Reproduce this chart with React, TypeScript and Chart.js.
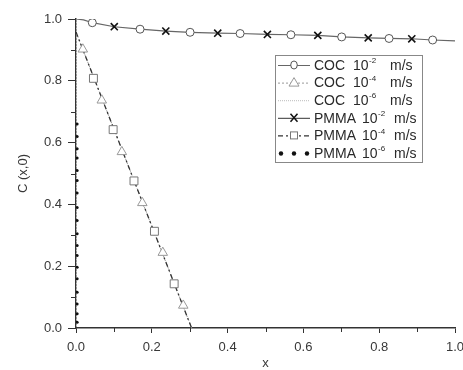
import React, { useEffect, useRef } from 'react';
import { Chart, registerables } from 'chart.js';

Chart.register(...registerables);

// ---- data ----
const xTickValues = [0, 0.2, 0.4, 0.6, 0.8, 1.0];
const yTickValues = [0, 0.2, 0.4, 0.6, 0.8, 1.0];

// 10^-2 m/s profile (COC and PMMA overlap)
const curve2X = [0, 0.02, 0.043, 0.101, 0.169, 0.237, 0.301, 0.374, 0.433, 0.505, 0.567, 0.638, 0.701, 0.771, 0.826, 0.886, 0.941, 1.0];
const curve2Y = [1.0, 0.997, 0.988, 0.975, 0.967, 0.961, 0.957, 0.954, 0.953, 0.95, 0.949, 0.947, 0.942, 0.939, 0.937, 0.936, 0.932, 0.929];
const cocCircleX = [0.043, 0.169, 0.301, 0.433, 0.567, 0.701, 0.826, 0.941];
const cocCircleY = [0.988, 0.967, 0.957, 0.953, 0.949, 0.942, 0.937, 0.932];
const pmmaCrossX = [0.101, 0.237, 0.374, 0.505, 0.638, 0.771, 0.886];
const pmmaCrossY = [0.975, 0.961, 0.954, 0.95, 0.947, 0.939, 0.936];

// 10^-4 m/s profile
const curve4X = [0, 0.305];
const curve4Y = [0.958, 0];
const cocTriX = [0.018, 0.068, 0.121, 0.175, 0.229, 0.283];
const cocTriY = [0.902, 0.737, 0.57, 0.405, 0.244, 0.073];
const pmmaSqX = [0.046, 0.098, 0.153, 0.207, 0.259];
const pmmaSqY = [0.808, 0.642, 0.476, 0.313, 0.143];

// 10^-6 m/s profile
const coc6X = [0.001, 0.001];
const coc6Y = [1.0, 0];
const pmma6X = [0.003, 0.003, 0.003, 0.003, 0.003, 0.003, 0.003, 0.003, 0.003, 0.003, 0.003, 0.003, 0.003, 0.003, 0.003, 0.003, 0.003, 0.003];
const pmma6Y = [0.66, 0.62, 0.58, 0.55, 0.51, 0.477, 0.437, 0.39, 0.348, 0.305, 0.267, 0.235, 0.197, 0.159, 0.116, 0.078, 0.046, 0.019];

const legendRows = [
  { name: 'COC', exp: '-2' },
  { name: 'COC', exp: '-4' },
  { name: 'COC', exp: '-6' },
  { name: 'PMMA', exp: '-2' },
  { name: 'PMMA', exp: '-4' },
  { name: 'PMMA', exp: '-6' },
];

const FONT = '"Liberation Sans", Arial, sans-serif';
const TEXT = '#383838';

const zip = (xs: number[], ys: number[]) => xs.map((x, i) => ({ x, y: ys[i] }));

const minorTicksPlugin = {
  id: 'minorTicks',
  afterDraw(chart: any) {
    const { ctx, scales } = chart;
    const xs = scales.x;
    const ys = scales.y;
    ctx.save();
    ctx.strokeStyle = '#333';
    ctx.lineWidth = 1;
    for (let i = 1; i < 10; i += 2) {
      const v = i / 10;
      const px = Math.round(xs.getPixelForValue(v)) + 0.5;
      ctx.beginPath();
      ctx.moveTo(px, ys.bottom);
      ctx.lineTo(px, ys.bottom + 4);
      ctx.stroke();
      const py = Math.round(ys.getPixelForValue(v)) + 0.5;
      ctx.beginPath();
      ctx.moveTo(xs.left, py);
      ctx.lineTo(xs.left - 5, py);
      ctx.stroke();
    }
    ctx.restore();
  },
};

const legendPlugin = {
  id: 'customLegend',
  afterDraw(chart: any) {
    const { ctx } = chart;
    const boxL = 275, boxT = 55, boxW = 147, boxH = 107;
    ctx.save();
    ctx.fillStyle = '#fff';
    ctx.fillRect(boxL, boxT, boxW, boxH);
    ctx.strokeStyle = '#888';
    ctx.lineWidth = 1;
    ctx.strokeRect(boxL + 0.5, boxT + 0.5, boxW, boxH);
    const rowH = 17.6;
    legendRows.forEach((row, i) => {
      const cy = boxT + 10 + i * rowH;
      const x0 = boxL + 3, x1 = boxL + 35, xm = (x0 + x1) / 2;
      ctx.save();
      ctx.beginPath();
      if (i === 0) { ctx.strokeStyle = '#666'; ctx.setLineDash([]); ctx.lineWidth = 1; }
      if (i === 1) { ctx.strokeStyle = '#999'; ctx.setLineDash([2, 2]); ctx.lineWidth = 1; }
      if (i === 2) { ctx.strokeStyle = '#bbb'; ctx.setLineDash([1, 1]); ctx.lineWidth = 1; }
      if (i === 3) { ctx.strokeStyle = '#333'; ctx.setLineDash([]); ctx.lineWidth = 1; }
      if (i === 4) { ctx.strokeStyle = '#333'; ctx.setLineDash([5, 3, 2, 3]); ctx.lineWidth = 1.2; }
      if (i !== 5) {
        ctx.moveTo(x0, cy + 0.5);
        ctx.lineTo(x1, cy + 0.5);
        ctx.stroke();
      }
      ctx.setLineDash([]);
      if (i === 0) {
        ctx.beginPath(); ctx.ellipse(xm, cy, 3.3, 4, 0, 0, Math.PI * 2);
        ctx.fillStyle = '#fff'; ctx.fill(); ctx.strokeStyle = '#555'; ctx.stroke();
      } else if (i === 1) {
        ctx.beginPath(); ctx.moveTo(xm, cy - 5); ctx.lineTo(xm + 5, cy + 3.5); ctx.lineTo(xm - 5, cy + 3.5); ctx.closePath();
        ctx.fillStyle = '#fff'; ctx.fill(); ctx.strokeStyle = '#999'; ctx.stroke();
      } else if (i === 3) {
        ctx.beginPath(); ctx.lineWidth = 1.5; ctx.strokeStyle = '#111';
        ctx.moveTo(xm - 3.5, cy - 4); ctx.lineTo(xm + 3.5, cy + 4);
        ctx.moveTo(xm + 3.5, cy - 4); ctx.lineTo(xm - 3.5, cy + 4); ctx.stroke();
      } else if (i === 4) {
        ctx.fillStyle = '#fff'; ctx.fillRect(xm - 4, cy - 4, 8, 8);
        ctx.strokeStyle = '#777'; ctx.lineWidth = 1; ctx.strokeRect(xm - 3.5, cy - 3.5, 7, 7);
      } else if (i === 5) {
        ctx.fillStyle = '#111';
        [x0 + 3, xm, x1 - 3].forEach((dx) => { ctx.beginPath(); ctx.arc(dx, cy + 0.5, 2.2, 0, Math.PI * 2); ctx.fill(); });
      }
      ctx.restore();
      ctx.fillStyle = '#2a2a2a';
      ctx.textBaseline = 'middle';
      ctx.font = `14px ${FONT}`;
      const tx = boxL + 39;
      ctx.fillText(row.name, tx, cy + 1);
      const tenX = row.name === 'COC' ? boxL + 78 : boxL + 87;
      ctx.fillText('10', tenX, cy + 1);
      const w10 = ctx.measureText('10').width;
      ctx.font = `8px ${FONT}`;
      ctx.fillText(row.exp, tenX + w10 + 0.5, cy - 4);
      ctx.font = `14px ${FONT}`;
      const msX = row.name === 'COC' ? boxL + 115 : boxL + 119;
      ctx.fillText('m/s', msX, cy + 1);
    });
    ctx.restore();
  },
};

export default function App() {
  const canvasRef = useRef<HTMLCanvasElement | null>(null);

  useEffect(() => {
    document.body.style.margin = '0';
    const canvas = canvasRef.current;
    if (!canvas) return;
    const chart = new Chart(canvas, {
      type: 'scatter',
      data: {
        datasets: [
          {
            label: 'PMMA 10-2 m/s',
            data: zip(pmmaCrossX, pmmaCrossY),
            showLine: false,
            pointStyle: 'crossRot',
            pointRadius: 5,
            borderColor: '#111',
            borderWidth: 1.6,
          },
          {
            label: 'COC 10-2 m/s',
            data: zip(cocCircleX, cocCircleY),
            showLine: false,
            pointStyle: 'circle',
            pointRadius: 4,
            backgroundColor: '#fff',
            borderColor: '#555',
            borderWidth: 1,
          },
          {
            label: 'PMMA 10-4 m/s',
            data: zip(pmmaSqX, pmmaSqY),
            showLine: false,
            pointStyle: 'rect',
            pointRadius: 5.6,
            backgroundColor: '#fff',
            borderColor: '#777',
            borderWidth: 1,
          },
          {
            label: 'COC 10-4 m/s',
            data: zip(cocTriX, cocTriY),
            showLine: false,
            pointStyle: 'triangle',
            pointRadius: 5.5,
            backgroundColor: '#fff',
            borderColor: '#999',
            borderWidth: 1,
          },
          {
            label: 'PMMA 10-6 m/s',
            data: zip(pmma6X, pmma6Y),
            showLine: false,
            pointStyle: 'circle',
            pointRadius: 1.5,
            backgroundColor: '#111',
            borderColor: '#111',
            borderWidth: 0,
          },
          {
            label: 'COC 10-2 curve',
            data: zip(curve2X, curve2Y),
            showLine: true,
            pointRadius: 0,
            borderColor: '#666',
            borderWidth: 1.2,
          },
          {
            label: 'PMMA 10-4 curve',
            data: zip(curve4X, curve4Y),
            showLine: true,
            pointRadius: 0,
            borderColor: '#333',
            borderWidth: 1.3,
            borderDash: [5, 3, 2, 3],
          },
          {
            label: 'COC 10-4 curve',
            data: zip(curve4X, curve4Y),
            showLine: true,
            pointRadius: 0,
            borderColor: '#999',
            borderWidth: 1,
            borderDash: [2, 2],
          },
          {
            label: 'COC 10-6 curve',
            data: zip(coc6X, coc6Y),
            showLine: true,
            pointRadius: 0,
            borderColor: '#ccc',
            borderWidth: 1,
            borderDash: [1, 2],
          },
        ],
      },
      options: {
        animation: false,
        responsive: false,
        devicePixelRatio: 1,
        layout: { padding: { top: 19, right: 8, left: 0, bottom: 0 } },
        plugins: { legend: { display: false }, tooltip: { enabled: false } },
        scales: {
          x: {
            type: 'linear',
            min: 0,
            max: 1,
            afterBuildTicks: (s: any) => { s.ticks = xTickValues.map((v) => ({ value: v })); },
            afterFit: (s: any) => { s.height = 42; s.paddingRight = 0; s.paddingLeft = 0; },
            border: { display: true, color: '#333', width: 1.5 },
            grid: { display: true, drawOnChartArea: false, drawTicks: true, tickLength: 5, color: '#333', lineWidth: 1 },
            ticks: {
              callback: (v: any) => Number(v).toFixed(1),
              color: TEXT,
              font: { family: FONT, size: 13 },
              padding: 7,
              maxRotation: 0,
              autoSkip: false,
            },
            title: { display: true, text: 'x', color: TEXT, font: { family: FONT, size: 13, lineHeight: 1 }, padding: { top: 0, bottom: 0 } },
          },
          y: {
            type: 'linear',
            min: 0,
            max: 1,
            afterBuildTicks: (s: any) => { s.ticks = yTickValues.map((v) => ({ value: v })); },
            afterFit: (s: any) => { s.width = 76; },
            border: { display: true, color: '#333', width: 1.5 },
            grid: { display: true, drawOnChartArea: false, drawTicks: true, tickLength: 8, color: '#333', lineWidth: 1 },
            ticks: {
              callback: (v: any) => Number(v).toFixed(1),
              color: TEXT,
              font: { family: FONT, size: 13 },
              padding: 6,
              autoSkip: false,
            },
            title: { display: true, text: 'C (x,0)', color: TEXT, font: { family: FONT, size: 13 }, padding: { top: 16, bottom: 0 } },
          },
        },
      },
      plugins: [minorTicksPlugin, legendPlugin],
    } as any);
    return () => chart.destroy();
  }, []);

  return (
    <div style={{ width: 463, height: 370, background: '#fff' }}>
      <canvas ref={canvasRef} width={463} height={370} style={{ display: 'block' }} />
    </div>
  );
}
